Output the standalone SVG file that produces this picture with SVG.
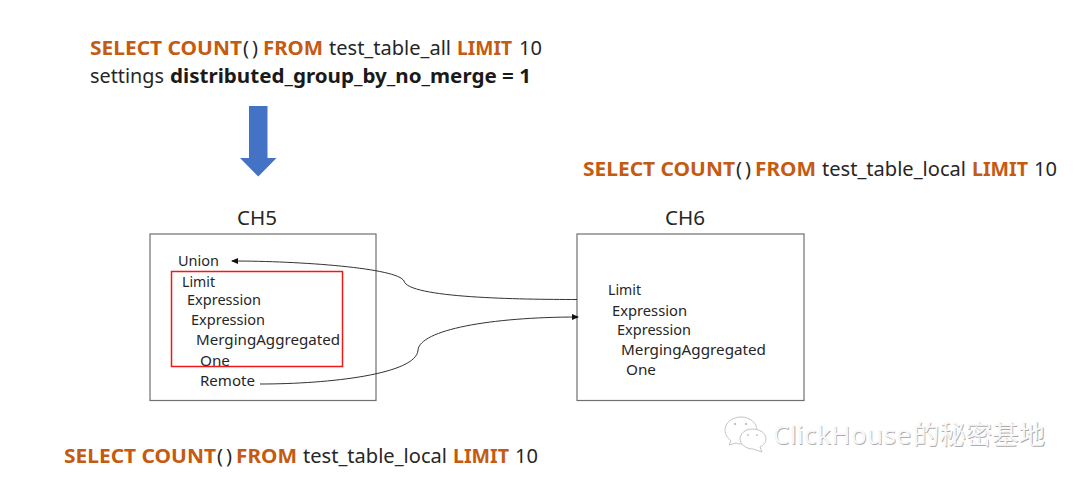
<svg xmlns="http://www.w3.org/2000/svg" width="1080" height="482" viewBox="0 0 1080 482">
<defs>
<marker id="ah" markerWidth="7" markerHeight="6" refX="6" refY="3" orient="auto" markerUnits="userSpaceOnUse"><path d="M0,0 L7,3 L0,6 Z" fill="#111"/></marker>
</defs>
<style>
text{font-family:"Noto Sans","Liberation Sans","Noto Sans CJK SC",sans-serif;fill:#262626}
.q{font-size:20px}
.k{font-weight:700;fill:#c55a11}
.b{font-weight:700;fill:#1a1a1a}
.t{font-size:15px}
.h{font-size:20px}
.box{fill:#fff;stroke:#707070;stroke-width:1.2}
.c{fill:none;stroke:#333;stroke-width:1}
.wm{font-size:26px}
.ws{fill:#adadad}
.wf{fill:#f8f8f8}
</style>
<rect width="1080" height="482" fill="#fff"/>
<g id="query-top">
<text class="q k" x="90" y="55" textLength="152" lengthAdjust="spacingAndGlyphs">SELECT COUNT</text>
<text class="q" x="243" y="55" textLength="15" lengthAdjust="spacing">()</text>
<text class="q k" x="263" y="55" textLength="60" lengthAdjust="spacingAndGlyphs">FROM</text>
<text class="q" x="329" y="55" textLength="122" lengthAdjust="spacingAndGlyphs">test_table_all</text>
<text class="q k" x="457" y="55" textLength="55" lengthAdjust="spacingAndGlyphs">LIMIT</text>
<text class="q" x="519" y="55" textLength="23" lengthAdjust="spacingAndGlyphs">10</text>
<text class="q" x="90" y="83" textLength="74" lengthAdjust="spacingAndGlyphs">settings</text>
<text class="q b" x="170" y="83" textLength="361" lengthAdjust="spacingAndGlyphs">distributed_group_by_no_merge = 1</text>
</g>
<g id="down-arrow"><path d="M249,106 H267.500 V158 H276.500 L258.300,176.500 L240,158 H249 Z" fill="#4472c4"/></g>
<g id="query-ch6">
<text class="q k" x="583" y="176" textLength="152" lengthAdjust="spacingAndGlyphs">SELECT COUNT</text>
<text class="q" x="736" y="176" textLength="15" lengthAdjust="spacing">()</text>
<text class="q k" x="755" y="176" textLength="61" lengthAdjust="spacingAndGlyphs">FROM</text>
<text class="q" x="822" y="176" textLength="144" lengthAdjust="spacingAndGlyphs">test_table_local</text>
<text class="q k" x="972" y="176" textLength="56" lengthAdjust="spacingAndGlyphs">LIMIT</text>
<text class="q" x="1034" y="176" textLength="23" lengthAdjust="spacingAndGlyphs">10</text>
</g>
<g id="query-ch5">
<text class="q k" x="64" y="463" textLength="152" lengthAdjust="spacingAndGlyphs">SELECT COUNT</text>
<text class="q" x="217" y="463" textLength="15" lengthAdjust="spacing">()</text>
<text class="q k" x="236" y="463" textLength="61" lengthAdjust="spacingAndGlyphs">FROM</text>
<text class="q" x="303" y="463" textLength="144" lengthAdjust="spacingAndGlyphs">test_table_local</text>
<text class="q k" x="453" y="463" textLength="56" lengthAdjust="spacingAndGlyphs">LIMIT</text>
<text class="q" x="515" y="463" textLength="23" lengthAdjust="spacingAndGlyphs">10</text>
</g>
<g id="ch5">
<text class="h" x="237" y="225" textLength="40" lengthAdjust="spacingAndGlyphs">CH5</text>
<rect class="box" x="150" y="234" width="226" height="166.500"/>
<text class="t" x="178" y="266" textLength="41" lengthAdjust="spacingAndGlyphs">Union</text>
<text class="t" x="182" y="287" textLength="33" lengthAdjust="spacingAndGlyphs">Limit</text>
<text class="t" x="187" y="305" textLength="74" lengthAdjust="spacingAndGlyphs">Expression</text>
<text class="t" x="191" y="325" textLength="74" lengthAdjust="spacingAndGlyphs">Expression</text>
<text class="t" x="196" y="345" textLength="144" lengthAdjust="spacingAndGlyphs">MergingAggregated</text>
<text class="t" x="200" y="366" textLength="30" lengthAdjust="spacingAndGlyphs">One</text>
<text class="t" x="200" y="386" textLength="55" lengthAdjust="spacingAndGlyphs">Remote</text>
<rect x="171.500" y="271.500" width="171" height="95" fill="none" stroke="#f01818" stroke-width="1.500"/>
</g>
<g id="ch6">
<text class="h" x="665" y="225" textLength="40" lengthAdjust="spacingAndGlyphs">CH6</text>
<rect class="box" x="577" y="234" width="227" height="166.500"/>
<text class="t" x="608" y="295" textLength="33" lengthAdjust="spacingAndGlyphs">Limit</text>
<text class="t" x="612" y="316" textLength="75" lengthAdjust="spacingAndGlyphs">Expression</text>
<text class="t" x="617" y="335" textLength="74" lengthAdjust="spacingAndGlyphs">Expression</text>
<text class="t" x="621" y="355" textLength="145" lengthAdjust="spacingAndGlyphs">MergingAggregated</text>
<text class="t" x="626" y="375" textLength="30" lengthAdjust="spacingAndGlyphs">One</text>
</g>
<g id="connectors">
<path class="c" d="M577,299.500 C520,299.500 408,298 404,281 C398,268 300,261 232,261" marker-end="url(#ah)"/>
<path class="c" d="M260,384 C330,384 417,374 418,350 C420,330 490,317 578,317" marker-end="url(#ah)"/>
</g>
<g id="watermark">
<g fill="#fff" stroke="#c4c4c4" stroke-width="1">
<path d="M741,417 C732,417 725,423 725,430 C725,435 728,438 731,441 L729,445 L736,443 C738,444 740,444 742,444 C750,444 757,438 757,430 C757,423 750,417 741,417 Z"/>
<path d="M752,429 C745,429 740,434 740,439 C740,444 746,449 753,449 L762,452 L760,447 C764,445 766,442 766,439 C766,433 760,429 752,429 Z"/>
</g>
<g fill="#c4c4c4"><circle cx="735" cy="424" r="1.200"/><circle cx="746" cy="424" r="1.200"/><circle cx="748" cy="435" r="1"/><circle cx="757" cy="435" r="1"/></g>
<text class="wm ws" x="773.800" y="444.800" textLength="138" lengthAdjust="spacing">ClickHouse</text>
<text class="wm wf" x="773" y="444" textLength="138" lengthAdjust="spacing">ClickHouse</text>
<text class="wm ws" x="913.800" y="444.800" textLength="132" lengthAdjust="spacingAndGlyphs">的秘密基地</text>
<text class="wm wf" x="913" y="444" textLength="132" lengthAdjust="spacingAndGlyphs">的秘密基地</text>
</g>
</svg>
